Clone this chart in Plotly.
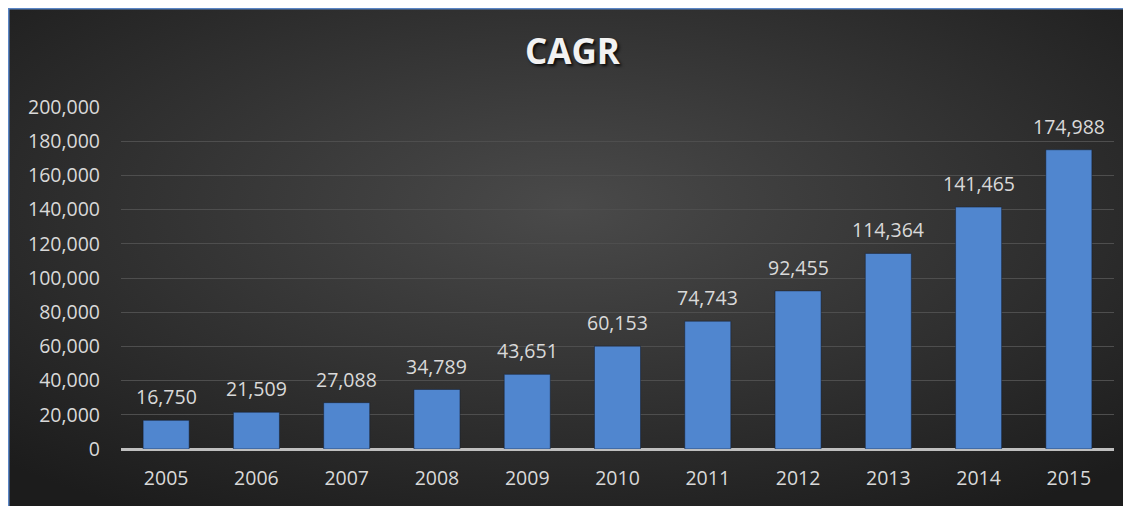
import base64
import plotly.graph_objects as go

years = ["2005", "2006", "2007", "2008", "2009", "2010", "2011", "2012", "2013", "2014", "2015"]
values = [16750, 21509, 27088, 34789, 43651, 60153, 74743, 92455, 114364, 141465, 174988]
y_ticks = [0, 20000, 40000, 60000, 80000, 100000, 120000, 140000, 160000, 180000, 200000]
y_tick_text = [f"{v:,}" for v in y_ticks]

W, H = 1123, 498
ML, MR, MT, MB = 113, 17, 99, 57
PW, PH = W - ML - MR, H - MT - MB

svg = f"""<svg xmlns='http://www.w3.org/2000/svg' width='{W}' height='{H}' viewBox='0 0 {W} {H}' preserveAspectRatio='none'>
<defs>
<radialGradient id='g' cx='0.5' cy='0.4' r='0.72' gradientUnits='objectBoundingBox'>
<stop offset='0' stop-color='#4a4a4a'/>
<stop offset='1' stop-color='#1c1c1c'/>
</radialGradient>
</defs>
<rect x='0' y='0' width='{W}' height='{H}' fill='url(#g)'/>
<line x1='0.75' y1='0' x2='0.75' y2='{H}' stroke='#5b86c5' stroke-width='1.5'/>
<line x1='0' y1='0.75' x2='{W}' y2='0.75' stroke='#5b86c5' stroke-width='1.5'/>
</svg>"""
src = "data:image/svg+xml;base64," + base64.b64encode(svg.encode()).decode()

fig = go.Figure()
fig.add_trace(go.Bar(
    x=years, y=values,
    marker=dict(color="#5086cf", line=dict(color="rgba(20,30,50,0.5)", width=1)),
    hoverinfo="x+y",
))

for i, v in enumerate(values):
    fig.add_annotation(x=i, y=v, text=f"{v:,}", showarrow=False, yanchor="bottom",
                       yshift=8, font=dict(family="Open Sans", size=19.5, color="#d9d9d9"))

fig.add_layout_image(dict(
    source=src, xref="paper", yref="paper",
    x=-ML / PW, y=1 + MT / PH, sizex=W / PW, sizey=H / PH,
    xanchor="left", yanchor="top", sizing="stretch", layer="below",
))

fig.update_layout(
    width=W, height=H,
    margin=dict(l=ML, r=MR, t=MT, b=MB),
    paper_bgcolor="#262626",
    plot_bgcolor="rgba(0,0,0,0)",
    bargap=0.49,
    showlegend=False,
    title=dict(text="CAGR", x=564.5 / W, xref="container", xanchor="center",
               y=1 - 44 / H, yref="container", yanchor="middle",
               font=dict(family="Open Sans", size=35, color="#f2f2f2", weight="bold",
                         shadow="2px 2px 3px rgba(0,0,0,0.8)")),
    xaxis=dict(type="category", showgrid=False, zeroline=False, showline=False,
               ticks="outside", ticklen=12, tickcolor="rgba(0,0,0,0)",
               tickfont=dict(family="Open Sans", size=19.5, color="#d9d9d9")),
    yaxis=dict(range=[0, 200000], tickvals=y_ticks, ticktext=y_tick_text,
               showgrid=True, gridcolor="#4e4e4e", gridwidth=1,
               zeroline=True, zerolinecolor="#bfbfbf", zerolinewidth=2.5,
               showline=False, ticks="", ticklabelstandoff=20,
               tickfont=dict(family="Open Sans", size=19.5, color="#d9d9d9")),
)

fig.write_html("out.html", post_script="document.documentElement.style.overflow='hidden';document.body.style.overflow='hidden';")
